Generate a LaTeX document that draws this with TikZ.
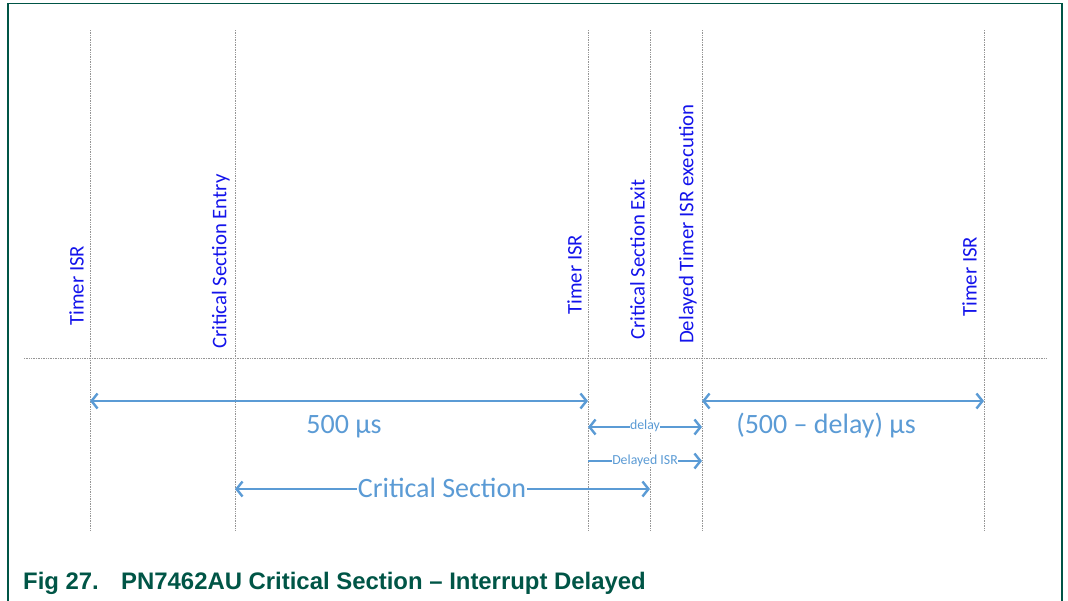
\documentclass[tikz,border=0pt]{standalone}
\usepackage{fontspec}
\setmainfont{Carlito}
\newfontfamily\capfont{Liberation Sans}
\usetikzlibrary{arrows.meta}
\definecolor{frameC}{RGB}{0,85,70}
\definecolor{arrC}{RGB}{91,155,213}
\definecolor{lblC}{RGB}{20,20,235}
\definecolor{gridC}{RGB}{150,150,150}
\tikzset{
  grid/.style={draw=gridC, densely dotted, line width=0.7pt},
  vlabel/.style={rotate=90, anchor=south west, text=lblC, font=\fontsize{20.8}{22}\selectfont, inner sep=0pt},
  meas/.style={draw=arrC, line width=2.4pt, {Straight Barb[length=6pt,width=15pt,line width=2.4pt]}-{Straight Barb[length=6pt,width=15pt,line width=2.4pt]}},
  measr/.style={draw=arrC, line width=2.4pt, -{Straight Barb[length=6pt,width=15pt,line width=2.4pt]}},
  big/.style={text=arrC, font=\fontsize{28}{30}\selectfont},
  small/.style={text=arrC, font=\fontsize{13.8}{15}\selectfont, fill=white, inner sep=0.5pt},
  captxt/.style={anchor=base west, inner sep=0pt, text=frameC, font=\capfont\bfseries\fontsize{23.9}{26}\selectfont},
}
\begin{document}
\begin{tikzpicture}[x=1pt,y=-1pt]
\useasboundingbox (0,0) rectangle (1068,600);
\draw[frameC, line width=1.6pt] (8,610) -- (8,3.5) -- (1062,3.5) -- (1062,610);
% vertical time markers
\foreach \n/\x in {t1/90, cse/235, t2/588, csx/650, dte/702, t3/984}{
  \coordinate (\n top) at (\x,30);
  \coordinate (\n bot) at (\x,530);
  \draw[grid] (\n top) -- (\n bot);
}
\coordinate (hl) at (24,358);
\coordinate (hr) at (1046,358);
\draw[grid] (hl) -- (hr);
% labels
\node[vlabel] (l1) at (84,326) {Timer ISR};
\node[vlabel] (l2) at (230,349) {Critical Section Entry};
\node[vlabel] (l3) at (582,315) {Timer ISR};
\node[vlabel] (l4) at (645,340) {Critical Section Exit};
\node[vlabel] (l5) at (697,344) {Delayed Timer ISR execution};
\node[vlabel] (l6) at (977,317) {Timer ISR};
% measurement coordinates
\coordinate (a1) at (90,401); \coordinate (a2) at (588,401);
\coordinate (b1) at (702,401); \coordinate (b2) at (984,401);
\coordinate (c1) at (588,427); \coordinate (c2) at (702,427);
\coordinate (d1) at (588,461); \coordinate (d2) at (702,461);
\coordinate (e1) at (235,489); \coordinate (e2) at (650,489);
\draw[meas] (a1) -- (a2);
\draw[meas] (b1) -- (b2);
\draw[meas] (c1) -- (c2);
\draw[measr] (d1) -- (d2);
\draw[meas] (e1) -- (e2);
\node[big] (m1) at (344,427) {500 µs};
\node[big] (m2) at (826,426) {(500 – delay) µs};
\node[small] (m3) at (645,426) {delay};
\node[small] (m4) at (645,461) {Delayed ISR};
\node[big, fill=white, inner sep=0.5pt] (m5) at (442,488) {Critical Section};
% caption
\node[captxt] (capnum) at (23,589) {Fig 27.};
\node[captxt] (captitle) at (121,589) {PN7462AU Critical Section – Interrupt Delayed};
\end{tikzpicture}
\end{document}
